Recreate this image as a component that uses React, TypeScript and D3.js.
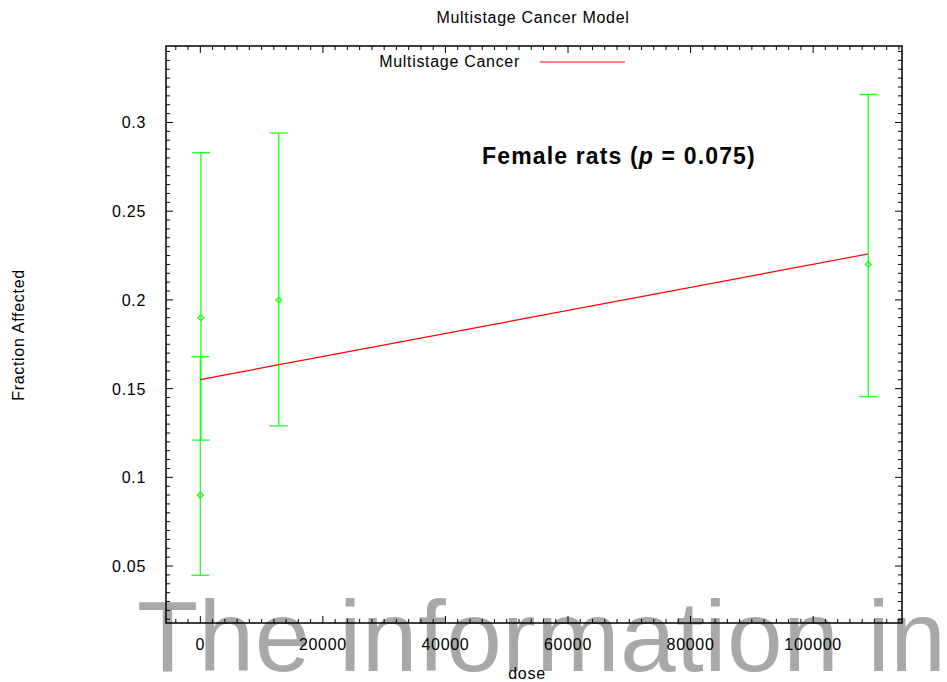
import React from "react";
import * as d3 from "d3";

// Dose groups with observed fraction affected and confidence limits
const doses = [0, 100, 12800, 109000];
const fractions = [0.09, 0.19, 0.2, 0.22];
const lowerLimits = [0.0448, 0.121, 0.129, 0.1455];
const upperLimits = [0.168, 0.283, 0.294, 0.3158];

// Fitted multistage model curve
const fitDoses = [0, 109000];
const fitValues = [0.1551, 0.2259];

const xTickValues = [0, 20000, 40000, 60000, 80000, 100000];
const yTickValues = [0.05, 0.1, 0.15, 0.2, 0.25, 0.3];

const W = 947;
const H = 682;
const left = 166;
const right = 902;
const top = 46;
const bottom = 623;

const FONT = "'Liberation Sans', Arial, Helvetica, sans-serif";
const GREEN = "#22ff22";

export default function App() {
  const x = d3.scaleLinear().domain([-5600, 114500]).range([left, right]);
  const y = d3.scaleLinear().domain([0.0179, 0.3431]).range([bottom, top]);

  const xMinor = d3.range(-4000, 114500, 2000).filter((v) => v % 20000 !== 0);
  const yMinor = d3.range(0.02, 0.343, 0.005).filter(
    (v) => Math.abs(Math.round(v / 0.05) * 0.05 - v) > 1e-6
  );

  const line = d3
    .line<number>()
    .x((_, i) => x(fitDoses[i]))
    .y((d) => y(d));

  const major = 7;
  const minor = 4;
  const capHalf = 9;

  return (
    <svg
      width={W}
      height={H}
      style={{ position: "absolute", left: 0, top: 0, background: "#fff" }}
      fontFamily={FONT}
    >
      <rect width={W} height={H} fill="#fff" />
      <text x={137} y={671} fontSize={100} letterSpacing={0.5} fill="#a8a8a8">
        The information in
      </text>

      {/* ticks, mirrored on all four sides */}
      <g stroke="#000" strokeWidth={1}>
        {xTickValues.map((v) => (
          <g key={"xM" + v}>
            <line x1={x(v)} x2={x(v)} y1={bottom} y2={bottom - major} />
            <line x1={x(v)} x2={x(v)} y1={top} y2={top + major} />
          </g>
        ))}
        {xMinor.map((v) => (
          <g key={"xm" + v}>
            <line x1={x(v)} x2={x(v)} y1={bottom} y2={bottom - minor} />
            <line x1={x(v)} x2={x(v)} y1={top} y2={top + minor} />
          </g>
        ))}
        {yTickValues.map((v) => (
          <g key={"yM" + v}>
            <line x1={left} x2={left + major} y1={y(v)} y2={y(v)} />
            <line x1={right} x2={right - major} y1={y(v)} y2={y(v)} />
          </g>
        ))}
        {yMinor.map((v) => (
          <g key={"ym" + v}>
            <line x1={left} x2={left + minor} y1={y(v)} y2={y(v)} />
            <line x1={right} x2={right - minor} y1={y(v)} y2={y(v)} />
          </g>
        ))}
      </g>
      <rect
        x={left}
        y={top}
        width={right - left}
        height={bottom - top}
        fill="none"
        stroke="#000"
        strokeWidth={1.5}
      />

      {/* tick labels */}
      <g fontSize={16} letterSpacing={0.7} fill="#000">
        {xTickValues.map((v) => (
          <text key={"xl" + v} x={x(v)} y={650} textAnchor="middle">
            {String(v)}
          </text>
        ))}
        {yTickValues.map((v) => (
          <text key={"yl" + v} x={146} y={y(v) + 6} textAnchor="end">
            {String(v)}
          </text>
        ))}
      </g>

      {/* error bars */}
      <g stroke={GREEN} strokeWidth={1.3} fill="none">
        {doses.map((d, i) => (
          <g key={"e" + i}>
            <line x1={x(d)} x2={x(d)} y1={y(lowerLimits[i])} y2={y(upperLimits[i])} />
            <line
              x1={x(d) - capHalf}
              x2={x(d) + capHalf}
              y1={y(lowerLimits[i])}
              y2={y(lowerLimits[i])}
            />
            <line
              x1={x(d) - capHalf}
              x2={x(d) + capHalf}
              y1={y(upperLimits[i])}
              y2={y(upperLimits[i])}
            />
            <path
              d={`M${x(d)},${y(fractions[i]) - 3}L${x(d) + 3},${y(fractions[i])}L${x(d)},${
                y(fractions[i]) + 3
              }L${x(d) - 3},${y(fractions[i])}Z`}
            />
          </g>
        ))}
      </g>

      {/* model fit */}
      <path d={line(fitValues) || ""} stroke="#ff0000" strokeWidth={1.2} fill="none" />

      {/* legend */}
      <text x={520} y={67} fontSize={16} letterSpacing={0.7} textAnchor="end">
        Multistage Cancer
      </text>
      <line x1={540} x2={625} y1={62} y2={62} stroke="#ff0000" strokeWidth={1.2} />

      <text x={482} y={164} fontSize={23} fontWeight="bold" letterSpacing={1.15}>
        Female rats (<tspan fontStyle="italic">p</tspan> = 0.075)
      </text>

      <text x={533} y={23} fontSize={16} letterSpacing={0.7} textAnchor="middle">
        Multistage Cancer Model
      </text>
      <text x={527} y={679} fontSize={16} letterSpacing={0.7} textAnchor="middle">
        dose
      </text>
      <text
        transform={`translate(24,335) rotate(-90)`}
        fontSize={16}
        letterSpacing={0.7}
        textAnchor="middle"
      >
        Fraction Affected
      </text>
    </svg>
  );
}
